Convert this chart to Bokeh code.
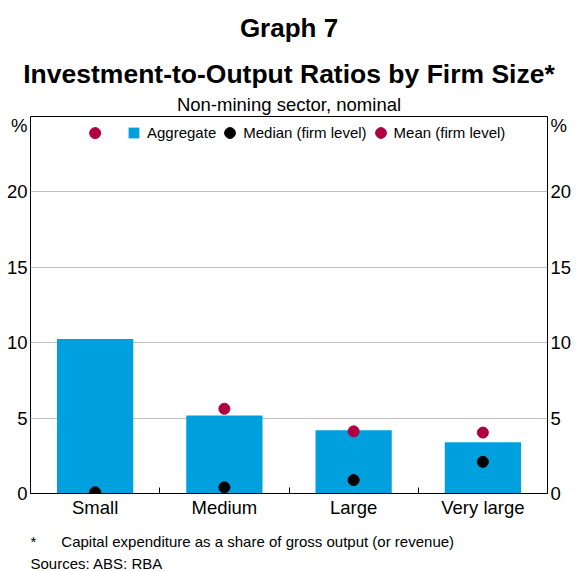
from bokeh.plotting import figure
from bokeh.models import (Range1d, FixedTicker, LinearAxis, Legend,
                          LegendItem, ColumnDataSource, Title)
from bokeh.embed import file_html
from bokeh.resources import INLINE

# ---- data ----
categories = ["Small", "Medium", "Large", "Very large"]
aggregate = [10.25, 5.18, 4.19, 3.40]
median_firm = [0.08, 0.41, 0.89, 2.10]
mean_firm = [23.9, 5.62, 4.12, 4.04]
y_ticks = [0, 5, 10, 15, 20]
y_unit_pos = 24.4
y_max = 25

FONT = "Liberation Sans"
BLUE = "#00A0DF"
RED = "#B00040"
TICK_FS = "18.5px"

xpos = [i + 0.5 for i in range(len(categories))]
src = ColumnDataSource(dict(x=xpos, cat=categories, agg=aggregate,
                            med=median_firm, mean=mean_firm))

p = figure(width=578, height=571, title=None,
           x_range=Range1d(0, len(categories)), y_range=Range1d(0, y_max),
           output_backend="svg", toolbar_location=None,
           min_border_left=30, min_border_right=31,
           min_border_top=114, min_border_bottom=78)
p.background_fill_color = "white"
p.border_fill_color = "white"
p.outline_line_color = "black"
p.outline_line_width = 1

bars = p.vbar(x="x", top="agg", bottom=0, width=0.59, source=src,
              fill_color=BLUE, line_color=None)
med = p.scatter("x", "med", size=11, color="black", source=src)
mn = p.scatter("x", "mean", size=11, color=RED, source=src)
# legend key for the bars (zero-size markers, only the legend shows them)
key = p.scatter("x", "agg", marker="square", size=0, source=src,
                fill_color=BLUE, line_color=None)

legend = Legend(items=[LegendItem(label="Aggregate", renderers=[key]),
                       LegendItem(label="Median (firm level)", renderers=[med]),
                       LegendItem(label="Mean (firm level)", renderers=[mn])],
                orientation="horizontal", location=(90, 347),
                glyph_width=27, glyph_height=27, label_standoff=0, spacing=0,
                padding=0, margin=0, border_line_color=None,
                background_fill_alpha=0, label_text_font=FONT,
                label_text_font_size="15px", label_text_color="black")
p.add_layout(legend)

# grid
p.xgrid.visible = False
p.ygrid.ticker = FixedTicker(ticks=[t for t in y_ticks if t > 0])
p.ygrid.grid_line_color = "#BFBFBF"

# axes
def style_y(ax):
    ax.ticker = FixedTicker(ticks=y_ticks + [y_unit_pos])
    ax.major_label_overrides = {y_unit_pos: "%"}
    ax.major_tick_in = 0
    ax.major_tick_out = 0
    ax.minor_tick_in = 0
    ax.minor_tick_out = 0
    ax.axis_line_color = None
    ax.major_label_standoff = 3
    ax.major_label_text_font = FONT
    ax.major_label_text_font_size = TICK_FS
    ax.major_label_text_color = "black"

style_y(p.yaxis[0])
ra = LinearAxis()
style_y(ra)
p.add_layout(ra, "right")

xa = p.xaxis[0]
xa.ticker = FixedTicker(ticks=xpos, minor_ticks=list(range(1, len(categories))))
xa.major_label_overrides = {x: c for x, c in zip(xpos, categories)}
xa.major_tick_in = 0
xa.major_tick_out = 0
xa.minor_tick_in = 6
xa.minor_tick_out = 0
xa.minor_tick_line_color = "black"
xa.axis_line_color = "black"
xa.major_label_standoff = 3
xa.major_label_text_font = FONT
xa.major_label_text_font_size = TICK_FS
xa.major_label_text_color = "black"

def title(text, size, standoff, where, bold=False, align="center", lh=1.0,
          valign="bottom"):
    p.add_layout(Title(text=text, align=align, standoff=standoff,
                       vertical_align=valign,
                       text_font=FONT, text_font_size=size,
                       text_font_style="bold" if bold else "normal",
                       text_line_height=lh, text_color="black"), where)

# above: closest to the plot first
title("Non-mining sector, nominal", "18.5px", 3.5, "above")
title("Investment-to-Output Ratios by Firm Size*", "26.5px", 0.5, "above", bold=True)
title("Graph 7", "26px", 24, "above", bold=True, lh=0.5, valign="top")
# below: after the x axis, outward
NB = "\u00a0"
title("*" + NB * 6 + "Capital expenditure as a share of gross output (or revenue)",
      "15px", 19.5, "below", align="left")
title("Sources: ABS: RBA", "15px", -13, "below", align="left")

open("out.html", "w").write(file_html(p, INLINE))
